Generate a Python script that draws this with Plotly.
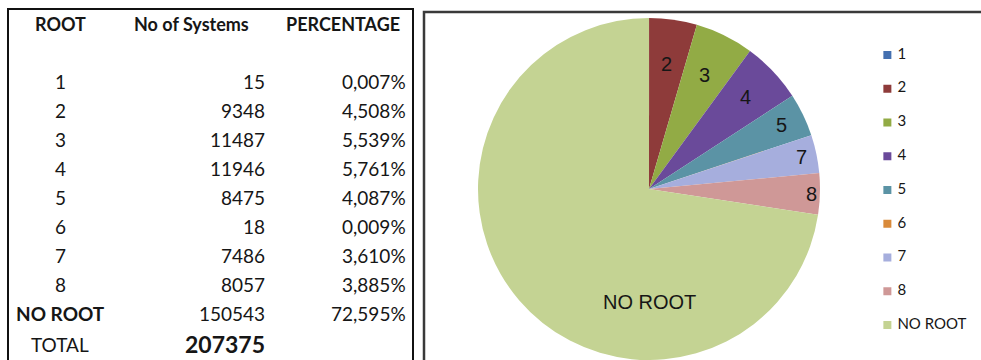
import math
import plotly.graph_objects as go

# ---- data -------------------------------------------------------------
roots = ["1", "2", "3", "4", "5", "6", "7", "8", "NO ROOT"]
systems = [15, 9348, 11487, 11946, 8475, 18, 7486, 8057, 150543]
percentages = [0.007, 4.508, 5.539, 5.761, 4.087, 0.009, 3.610, 3.885, 72.595]
headers = ["ROOT", "No of Systems", "PERCENTAGE"]
total_label = "TOTAL"

# ---- style ------------------------------------------------------------
W, H = 981, 360
slice_colors = ["#4470B0", "#8E3B3A", "#92AB45", "#6A4A9A", "#5B93A5",
                "#D98A3A", "#A6AEDD", "#CF9897", "#C4D393"]
# radial position of each slice label (fraction of radius); None = no label
label_radius = [None, 0.74, 0.74, 0.78, 0.86, None, 0.91, 0.95, 0.66]
# the big slice gets its label straight below the centre
label_angle_override = {8: 180.0}
table_font = "Lato, 'Open Sans', sans-serif"
pie_font = "'Liberation Sans', Arial, sans-serif"
ink = "#161616"

total = sum(systems)

def fmt_pct(p):
    return f"{p:.3f}".replace(".", ",") + "%"

def px_to_paper(x, y):
    return x / W, 1 - y / H

annotations = []

# ---- table (text laid out in a fixed row grid) -------------------------
tbl_x0, tbl_x1 = 8, 413
header_y = 24
first_row_y, row_step = 82, 28.9
# column anchors: header centres, then (x position, x anchor) for the body
col_header_x = [60, 191, 343]
col_body = [(60, "center"), (267, "right"), (408, "right")]

for h, hx in zip(headers, col_header_x):
    x, y = px_to_paper(hx, header_y)
    annotations.append(dict(x=x, y=y, xref="paper", yref="paper", text=f"<b>{h}</b>",
                            showarrow=False, xanchor="center", yanchor="middle",
                            font=dict(family=table_font, size=18, color=ink)))

body_rows = []
for r, s, p in zip(roots, systems, percentages):
    root_txt = f"<b>{r}</b>" if r == "NO ROOT" else r
    body_rows.append([(root_txt, 19), (str(s), 19), (fmt_pct(p), 19)])
body_rows.append([(total_label, 19), (f"<b>{total}</b>", 23), ("", 19)])

for i, row in enumerate(body_rows):
    y_px = first_row_y + i * row_step
    if i == len(body_rows) - 1:
        y_px += 2  # total row sits a little lower (larger figure)
    for (txt, size), (cx_, anchor) in zip(row, col_body):
        if not txt:
            continue
        x, y = px_to_paper(cx_, y_px)
        annotations.append(dict(x=x, y=y, xref="paper", yref="paper", text=txt,
                                showarrow=False, xanchor=anchor, yanchor="middle",
                                font=dict(family=table_font, size=size, color=ink)))

fig = go.Figure()

# ---- pie --------------------------------------------------------------
cx, cy, R = 649, 189, 171
fig.add_trace(go.Pie(
    labels=roots,
    values=systems,
    sort=False,
    direction="clockwise",
    rotation=0,
    textinfo="none",
    hoverinfo="label+value+percent",
    showlegend=False,
    marker=dict(colors=slice_colors, line=dict(width=0)),
    domain=dict(x=[(cx - R) / W, (cx + R) / W],
                y=[1 - (cy + R) / H, 1 - (cy - R) / H]),
))

# slice labels placed on each slice's mid-angle
cum = 0.0
for i, (name, v) in enumerate(zip(roots, systems)):
    start = cum
    cum += v
    if label_radius[i] is None:
        continue
    ang = label_angle_override.get(i, 360.0 * (start + v / 2) / total)
    r = label_radius[i] * R
    x, y = px_to_paper(cx + r * math.sin(math.radians(ang)),
                       cy - r * math.cos(math.radians(ang)))
    annotations.append(dict(
        x=x, y=y, xref="paper", yref="paper",
        text=name, showarrow=False,
        font=dict(family=pie_font, size=20, color=ink),
        xanchor="center", yanchor="middle",
    ))

# ---- legend (markers on a hidden axis, one row per category) -----------
n = len(roots)
fig.add_trace(go.Scatter(
    x=[0] * n, y=list(range(n)),
    mode="markers",
    marker=dict(symbol="square", size=8, color=slice_colors, line=dict(width=0)),
    hoverinfo="skip", showlegend=False,
))
fig.add_trace(go.Scatter(
    x=[10] * n, y=list(range(n)),
    mode="text", text=roots, textposition="middle right",
    textfont=dict(family=table_font, size=15, color=ink),
    hoverinfo="skip", showlegend=False,
))

# ---- frames around the table and the chart ------------------------------
shapes = [
    dict(type="rect", xref="paper", yref="paper",
         x0=tbl_x0 / W, x1=tbl_x1 / W, y0=-0.05, y1=1 - 9 / H,
         line=dict(color="#111111", width=2)),
    dict(type="rect", xref="paper", yref="paper",
         x0=424 / W, x1=1.05, y0=-0.05, y1=1 - 12 / H,
         line=dict(color="#3a3a3a", width=2.5)),
]

fig.update_layout(
    width=W, height=H,
    margin=dict(l=0, r=0, t=0, b=0),
    paper_bgcolor="white", plot_bgcolor="rgba(0,0,0,0)",
    xaxis=dict(domain=[0.86, 1.0], range=[-43.7, 93.6], visible=False, fixedrange=True),
    yaxis=dict(domain=[1 - 342 / H, 1 - 38 / H], range=[n - 0.5, -0.5],
               visible=False, fixedrange=True),
    annotations=annotations,
    shapes=shapes,
    showlegend=False,
)

fig.write_html("out.html")
